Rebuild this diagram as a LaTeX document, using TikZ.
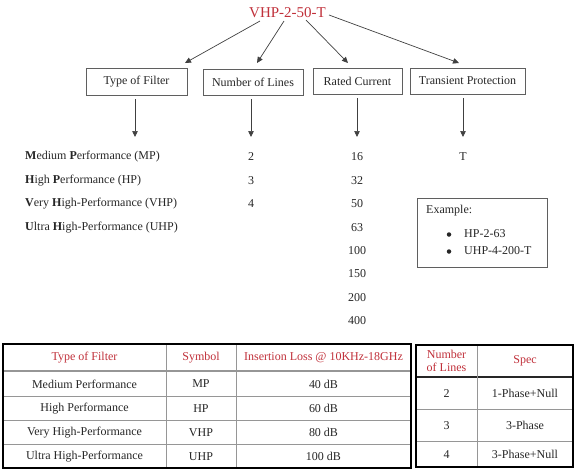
\documentclass[tikz,border=0pt]{standalone}
\usepackage{fontspec}
\setmainfont{Liberation Serif}
\usetikzlibrary{arrows.meta}
\definecolor{hdred}{RGB}{192,48,58}
\definecolor{boxgray}{RGB}{95,95,95}
\definecolor{linegray}{RGB}{150,150,150}
\tikzset{
  txt/.style={inner sep=0pt, font=\fontsize{12}{14}\selectfont, text=black!85},
  catbox/.style={draw=boxgray, line width=0.9pt, inner sep=0pt, font=\fontsize{12}{14}\selectfont, text=black!85},
  arr/.style={draw=black!75, line width=0.7pt, -{Triangle[length=6pt,width=5.5pt]}},
  outer/.style={draw=black, line width=2pt},
  inner/.style={draw=linegray, line width=1pt},
  hd/.style={txt, text=hdred, align=center},
  bul/.style={circle, fill=black!85, inner sep=0pt, minimum size=4.5pt},
}
\begin{document}
\begin{tikzpicture}[x=1pt,y=-1pt]
\useasboundingbox (0,0) rectangle (574,472);
% title
\node[txt, text=hdred, font=\fontsize{15}{17}\selectfont] (title) at (287.5,13) {VHP-2-50-T};
% category boxes
\node[catbox, minimum width=101pt, minimum height=27pt] (tf) at (136.5,81.5) {Type of Filter};
\node[catbox, minimum width=100pt, minimum height=26pt] (nl) at (253,82) {Number of Lines};
\node[catbox, minimum width=89pt, minimum height=26pt] (rc) at (357.5,81) {Rated Current};
\node[catbox, minimum width=115pt, minimum height=26pt] (tp) at (467.5,81) {Transient Protection};
% arrows from title
\coordinate (a1) at (185,63);
\coordinate (a2) at (257,63);
\coordinate (a3) at (348,63);
\coordinate (a4) at (459,63);
\coordinate (s1) at (260,21);
\coordinate (s2) at (284,21);
\coordinate (s3) at (306,20);
\coordinate (s4) at (329,15);
\draw[arr] (s1) -- (a1);
\draw[arr] (s2) -- (a2);
\draw[arr] (s3) -- (a3);
\draw[arr] (s4) -- (a4);
% vertical arrows
\coordinate (v1) at (135,137);
\coordinate (v2) at (251,137);
\coordinate (v3) at (357,137);
\coordinate (v4) at (463,137);
\draw[arr] (v1 |- tf.south) ++(0,4) -- (v1);
\draw[arr] (v2 |- nl.south) ++(0,4) -- (v2);
\draw[arr] (v3 |- rc.south) ++(0,4) -- (v3);
\draw[arr] (v4 |- tp.south) ++(0,4) -- (v4);
% type of filter list
\node[txt, anchor=west] (l1) at (25,157) {\textbf{M}edium \textbf{P}erformance (MP)};
\node[txt, anchor=west] (l2) at (25,180.5) {\textbf{H}igh \textbf{P}erformance (HP)};
\node[txt, anchor=west] (l3) at (25,204) {\textbf{V}ery \textbf{H}igh-Performance (VHP)};
\node[txt, anchor=west] (l4) at (25,227.5) {\textbf{U}ltra \textbf{H}igh-Performance (UHP)};
% number of lines
\node[txt] (n2) at (251,157) {2};
\node[txt] (n3) at (251,180.5) {3};
\node[txt] (n4) at (251,204) {4};
% rated current
\node[txt] (r1) at (357,156.5) {16};
\node[txt] (r2) at (357,180.5) {32};
\node[txt] (r3) at (357,203.5) {50};
\node[txt] (r4) at (357,227.5) {63};
\node[txt] (r5) at (357,250.5) {100};
\node[txt] (r6) at (357,274) {150};
\node[txt] (r7) at (357,297.5) {200};
\node[txt] (r8) at (357,321) {400};
% transient
\node[txt] (tT) at (463,156.5) {T};
% example box
\draw[draw=boxgray, line width=0.9pt] (417,198) rectangle (547,267);
\node[txt, anchor=west] (ex) at (426,211) {Example:};
\node[bul] (b1) at (449,234.5) {};
\node[bul] (b2) at (449,251.5) {};
\node[txt, anchor=west] (e1) at (464,234) {HP-2-63};
\node[txt, anchor=west] (e2) at (464,251) {UHP-4-200-T};
% table 1
\draw[inner] (3,396) -- (411,396);
\draw[inner] (3,420) -- (411,420);
\draw[inner] (3,444) -- (411,444);
\draw[draw=linegray, line width=2.2pt] (3,371) -- (411,371);
\draw[inner] (166,344) -- (166,468);
\draw[inner] (236,344) -- (236,468);
\draw[outer] (3,344) rectangle (411,468);
\node[hd] (h11) at (84.5,358) {Type of Filter};
\node[hd] (h12) at (201,358) {Symbol};
\node[hd] (h13) at (323.5,358) {Insertion Loss @ 10KHz-18GHz};
\node[txt] (c11) at (84.5,384) {Medium Performance};
\node[txt] (c12) at (201,384) {MP};
\node[txt] (c13) at (323.5,384) {40 dB};
\node[txt] (c21) at (84.5,408.5) {High Performance};
\node[txt] (c22) at (201,408.5) {HP};
\node[txt] (c23) at (323.5,408.5) {60 dB};
\node[txt] (c31) at (84.5,432.5) {Very High-Performance};
\node[txt] (c32) at (201,432.5) {VHP};
\node[txt] (c33) at (323.5,432.5) {80 dB};
\node[txt] (c41) at (84.5,456.5) {Ultra High-Performance};
\node[txt] (c42) at (201,456.5) {UHP};
\node[txt] (c43) at (323.5,456.5) {100 dB};
% table 2
\draw[draw=black!85, line width=1.6pt] (416,377) -- (573,377);
\draw[inner] (416,409) -- (573,409);
\draw[inner] (416,441) -- (573,441);
\draw[inner] (477,345) -- (477,467);
\draw[outer] (416,345) rectangle (573,467);
\node[hd, font=\fontsize{12}{13}\selectfont] (h21) at (446.5,361) {Number\\of Lines};
\node[hd] (h22) at (525,361) {Spec};
\node[txt] (d11) at (446.5,393.5) {2};
\node[txt] (d12) at (525,393.5) {1-Phase+Null};
\node[txt] (d21) at (446.5,425.5) {3};
\node[txt] (d22) at (525,425.5) {3-Phase};
\node[txt] (d31) at (446.5,454.5) {4};
\node[txt] (d32) at (525,454.5) {3-Phase+Null};
\end{tikzpicture}
\end{document}
